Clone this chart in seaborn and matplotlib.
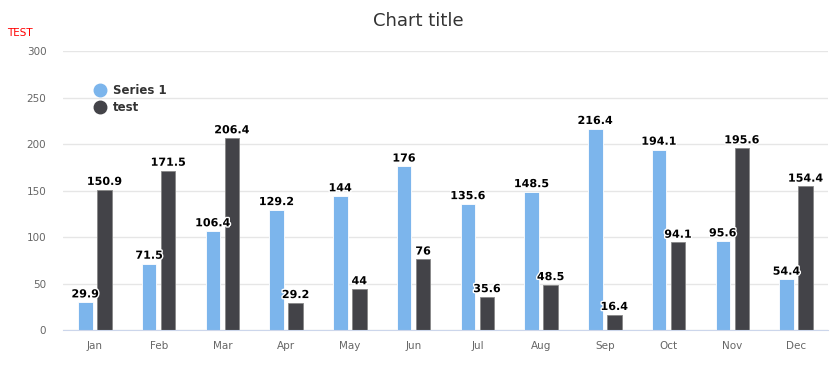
import matplotlib
matplotlib.use('Agg')
import matplotlib.pyplot as plt
import matplotlib.patheffects as pe
from matplotlib.lines import Line2D
import pandas as pd
import seaborn as sns

# Chart data
months = ['Jan', 'Feb', 'Mar', 'Apr', 'May', 'Jun', 'Jul', 'Aug', 'Sep', 'Oct', 'Nov', 'Dec']
series1 = [29.9, 71.5, 106.4, 129.2, 144, 176, 135.6, 148.5, 216.4, 194.1, 95.6, 54.4]
test = [150.9, 171.5, 206.4, 29.2, 44, 76, 35.6, 48.5, 16.4, 94.1, 195.6, 154.4]
series_names = ['Series 1', 'test']
colors = ['#7cb5ec', '#434348']

df = pd.DataFrame({
    'month': months * 2,
    'value': series1 + test,
    'series': [series_names[0]] * len(months) + [series_names[1]] * len(months),
})

sns.set_style('white')
plt.rcParams['font.family'] = ['DejaVu Sans']

fig = plt.figure(figsize=(8.36, 3.78), dpi=100)
ax = fig.add_axes([0.0754, 0.127, 0.915, 0.738])

sns.barplot(data=df, x='month', y='value', hue='series', palette=colors,
            width=0.6, gap=0.24, ax=ax, legend=False, saturation=1)

edge_cols = ['#ffffff', '#888888']
for cont, ec in zip(ax.containers, edge_cols):
    for bar in cont:
        bar.set_edgecolor(ec)
        bar.set_linewidth(0.6)
    labels = [f'{v:g}' for v in cont.datavalues]
    txts = ax.bar_label(cont, labels=labels, padding=2, fontsize=8, fontweight='bold', color='black')
    for t in txts:
        t.set_path_effects([pe.withStroke(linewidth=2, foreground='white')])

ax.set_ylim(0, 300)
ax.set_xlim(-0.5, 11.5)
ax.set_yticks(range(0, 301, 50))
ax.yaxis.grid(True, color='#e6e6e6', linewidth=1)
ax.set_axisbelow(True)
for s in ['top', 'right', 'left']:
    ax.spines[s].set_visible(False)
ax.spines['bottom'].set_color('#ccd6eb')
ax.tick_params(axis='both', length=0, labelsize=7.5, labelcolor='#666666')
ax.tick_params(axis='y', pad=12)
ax.tick_params(axis='x', pad=8)
ax.set_xlabel('')
ax.set_ylabel('')

fig.text(0.5, 0.945, 'Chart title', ha='center', va='center', fontsize=13, color='#333333')
fig.text(0.009, 0.912, 'TEST', ha='left', va='center', fontsize=7.5, color='red')

handles = [Line2D([0], [0], marker='o', linestyle='', markersize=9,
                  markerfacecolor=c, markeredgecolor=c) for c in colors]
leg = ax.legend(handles, series_names, loc='upper left', bbox_to_anchor=(0.025, 0.92),
                frameon=False, handletextpad=0.5, labelspacing=0.35, handlelength=1.2,
                prop={'size': 8.5, 'weight': 'bold'})
for t in leg.get_texts():
    t.set_color('#333333')

fig.savefig('out.png', dpi=100)
